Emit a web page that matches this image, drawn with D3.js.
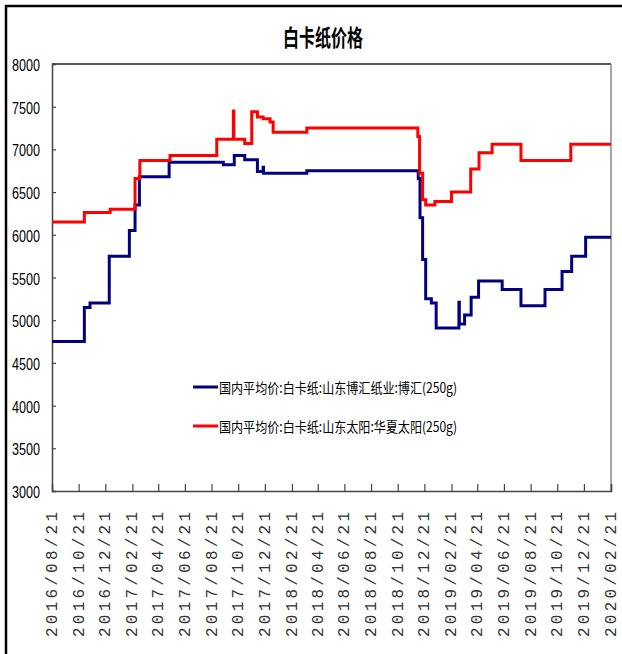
<!DOCTYPE html>
<html><head><meta charset="utf-8">
<script src="https://cdn.jsdelivr.net/npm/d3@7"></script>
<style>html,body{margin:0;padding:0;background:#fff;} svg{display:block}</style>
</head><body>
<svg id="c" width="622" height="654"></svg>
<script>
const chartTitle = "白卡纸价格";
const seriesNames = ["国内平均价:白卡纸:山东博汇纸业:博汇(250g)", "国内平均价:白卡纸:山东太阳:华夏太阳(250g)"];
const seriesColors = ["#000080", "#ff0000"];
const yTicks = [3000, 3500, 4000, 4500, 5000, 5500, 6000, 6500, 7000, 7500, 8000];
const xTickLabels = ["2016/08/21","2016/10/21","2016/12/21","2017/02/21","2017/04/21","2017/06/21",
  "2017/08/21","2017/10/21","2017/12/21","2018/02/21","2018/04/21","2018/06/21","2018/08/21",
  "2018/10/21","2018/12/21","2019/02/21","2019/04/21","2019/06/21","2019/08/21","2019/10/21",
  "2019/12/21","2020/02/21"];

const blueDates = ["2016-08-21","2016-11-03","2016-11-16","2016-12-30","2017-02-14","2017-02-27","2017-03-09",
  "2017-05-16","2017-09-17","2017-10-12","2017-11-05","2017-12-04","2017-12-17","2017-12-18","2018-03-27",
  "2018-12-07","2018-12-11","2018-12-17","2018-12-24","2019-01-06","2019-01-17","2019-03-10","2019-03-11",
  "2019-03-23","2019-04-07","2019-04-24","2019-06-17","2019-07-30","2019-09-23","2019-11-01","2019-11-23",
  "2019-12-25","2020-02-21"];
const blueValues = [4750,5150,5200,5750,6050,6350,6680,
  6850,6820,6930,6880,6740,6790,6720,6750,
  6660,6200,5710,5250,5200,4910,5210,4955,
  5060,5270,5460,5360,5170,5360,5570,5750,
  5970,5970];

const redDates = ["2016-08-21","2016-11-03","2017-01-01","2017-02-27","2017-03-10","2017-05-18","2017-09-02",
  "2017-10-10","2017-10-11","2017-11-05","2017-11-21","2017-12-04","2017-12-17","2018-01-02","2018-01-09",
  "2018-03-27","2018-12-06","2018-12-10","2018-12-17","2018-12-24","2019-01-14","2019-02-21","2019-04-06",
  "2019-04-25","2019-05-25","2019-07-30","2019-11-21","2020-02-21"];
const redValues = [6150,6260,6300,6660,6870,6930,7120,
  7450,7120,7070,7440,7380,7360,7320,7200,
  7250,7150,6720,6410,6350,6390,6500,6770,
  6960,7060,6870,7060,7060];

const parseD = d3.timeParse("%Y-%m-%d");
const parseT = d3.timeParse("%Y/%m/%d");
const svg = d3.select("#c");

const L = 52, R = 611, T = 64, B = 491;
const x = d3.scaleTime().domain([parseT(xTickLabels[0]), parseT(xTickLabels[xTickLabels.length-1])]).range([L, R]);
const y = d3.scaleLinear().domain([3000, 8000]).range([B, T]);

// outer frame (left & top)
svg.append("line").attr("x1",6).attr("x2",6).attr("y1",5).attr("y2",654).attr("stroke","#000").attr("stroke-width",2.5);
svg.append("line").attr("x1",5).attr("x2",622).attr("y1",6).attr("y2",6).attr("stroke","#000").attr("stroke-width",2.3);

// title
svg.append("text").attr("x",323).attr("y",46).attr("text-anchor","middle")
  .attr("font-family","'Noto Sans CJK SC', sans-serif").attr("font-weight","bold").attr("font-size",23)
  .attr("textLength",80).attr("lengthAdjust","spacingAndGlyphs").attr("fill","#000").text(chartTitle);

// plot frame
svg.append("line").attr("x1",L).attr("x2",R).attr("y1",T).attr("y2",T).attr("stroke","#222").attr("stroke-width",1.5);
svg.append("line").attr("x1",R).attr("x2",R).attr("y1",T).attr("y2",B).attr("stroke","#888").attr("stroke-width",1.5);

// y axis
const yAxis = d3.axisLeft(y).tickValues(yTicks).tickSize(-4).tickFormat("");
const gy = svg.append("g").attr("transform",`translate(${L},0)`).call(yAxis);
gy.select(".domain").attr("stroke","#444").attr("stroke-width",1.5);
gy.selectAll(".tick line").attr("stroke","#444").attr("stroke-width",1.2);
svg.append("g").selectAll("text").data(yTicks).join("text")
  .attr("x",40).attr("y",d=>y(d)+7).attr("text-anchor","end")
  .attr("font-family","'Liberation Sans', Arial, sans-serif").attr("font-size",16)
  .attr("textLength",28).attr("lengthAdjust","spacingAndGlyphs").attr("fill","#000")
  .text(d=>d);

// x axis
const xTickDates = xTickLabels.map(parseT);
const xAxis = d3.axisBottom(x).tickValues(xTickDates.slice(1)).tickSize(-7).tickFormat("");
const gx = svg.append("g").attr("transform",`translate(0,${B})`).call(xAxis);
gx.select(".domain").attr("stroke","#444").attr("stroke-width",1.5);
gx.selectAll(".tick line").attr("stroke","#444").attr("stroke-width",1.2);
svg.append("g").selectAll("text").data(xTickLabels).join("text")
  .attr("transform",d=>`translate(${x(parseT(d))+5},512) rotate(-90)`)
  .attr("text-anchor","end")
  .attr("font-family","'Liberation Mono', monospace").attr("font-size",16)
  .attr("textLength",125).attr("lengthAdjust","spacing").attr("fill","#333")
  .text(d=>d);

// lines
const line = d3.line().x(d=>x(d.date)).y(d=>y(d.value)).curve(d3.curveStepAfter);
const blueData = blueDates.map((d,i)=>({date:parseD(d), value:blueValues[i]}));
const redData = redDates.map((d,i)=>({date:parseD(d), value:redValues[i]}));
svg.append("path").datum(blueData).attr("d",line).attr("fill","none").attr("stroke",seriesColors[0]).attr("stroke-width",3);
svg.append("path").datum(redData).attr("d",line).attr("fill","none").attr("stroke",seriesColors[1]).attr("stroke-width",3);

// legend
const legY = [387, 426];
seriesNames.forEach((n,i)=>{
  svg.append("line").attr("x1",193).attr("x2",218).attr("y1",legY[i]).attr("y2",legY[i])
    .attr("stroke",seriesColors[i]).attr("stroke-width",3);
  svg.append("text").attr("x",219).attr("y",legY[i]+6)
    .attr("font-family","'Noto Sans CJK SC', sans-serif").attr("font-size",14)
    .attr("textLength",238).attr("lengthAdjust","spacingAndGlyphs").attr("fill","#000").text(n);
});
</script>
</body></html>
